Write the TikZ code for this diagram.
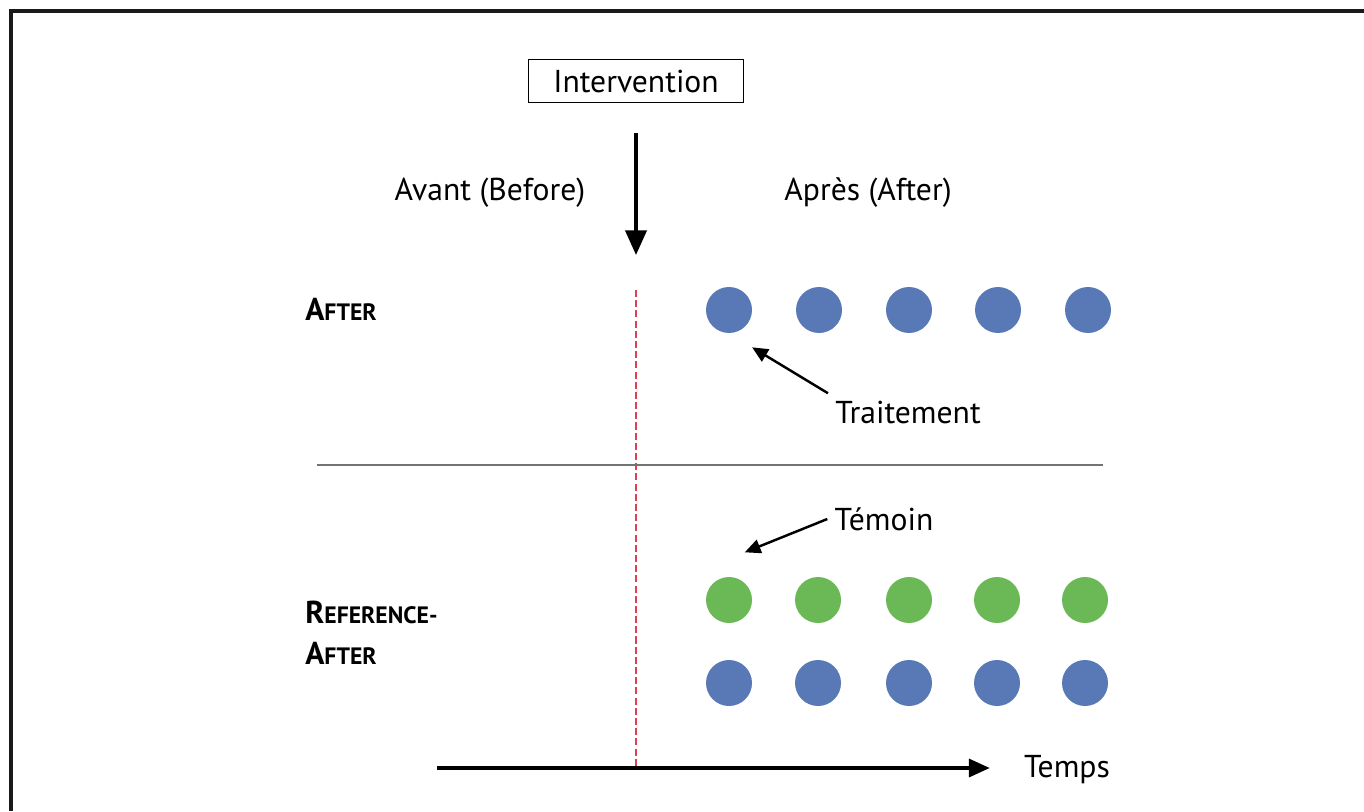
\documentclass[tikz,border=0pt]{standalone}
\usepackage{fontspec}
\setmainfont{PT Sans}
\usetikzlibrary{arrows.meta,positioning}
\definecolor{dotblue}{HTML}{5878B6}
\definecolor{dotgreen}{HTML}{6AB856}
\definecolor{cutred}{HTML}{E0404F}
\newcommand{\grouplabel}[2]{\textbf{{\fontsize{18}{20}\selectfont #1}{\fontsize{13.5}{20}\selectfont #2}}}

\begin{document}
\begin{tikzpicture}[x=0.02cm,y=-0.02cm,
        txt/.style={font=\fontsize{18}{21}\selectfont,inner sep=0pt},
        grp/.style={inner sep=0pt,anchor=west},
        dot/.style={circle,inner sep=0pt,minimum size=0.92cm},
        pointer/.style={line width=1.4pt,-{Triangle[length=9pt,width=8pt]}},
        bigarrow/.style={line width=2pt,-{Triangle[length=14pt,width=12pt]}}]
        \useasboundingbox (0,0) rectangle (1364,811);
        % frame
        \draw[line width=1.8pt,black!90] (1364,11) -- (11,11) -- (11,811);
        % intervention
        \node[txt,draw,line width=0.8pt,minimum width=4.3cm,minimum height=0.86cm] (intv) at (636,81) {Intervention};
        \coordinate (arrtop) at (636,133);
        \coordinate (arrtip) at (636,255);
        \draw[bigarrow] (arrtop) -- (arrtip);
        \node[txt] (avant) at (490,193) {Avant (Before)};
        \node[txt] (apres) at (868,193) {Après (After)};
        % cut and time axis
        \coordinate (cuttop) at (636,290);
        \coordinate (cutbot) at (636,768);
        \coordinate (axstart) at (437,768);
        \coordinate (axend) at (990,768);
        \draw[cutred,line width=1.2pt,dash pattern=on 4pt off 1.8pt] (cuttop) -- (cutbot);
        \draw[line width=2.5pt,-{Triangle[length=12pt,width=10pt]}] (axstart) -- (axend);
        \node[txt] (temps) at (1067,770) {Temps};
        % separator
        \coordinate (sepl) at (317,465);
        \coordinate (sepr) at (1103,465);
        \draw[black!55,line width=0.6pt] (sepl) -- (sepr);
        % groups
        \node[grp] (after) at (305,309) {\grouplabel{A}{FTER}};
        \node[grp] (refafter) at (305,612) {\grouplabel{R}{EFERENCE-}};
        \node[grp] (refafter2) at (305,653) {\grouplabel{A}{FTER}};
        % dots
        \foreach \i/\x in {1/729,2/819,3/909,4/998,5/1088}
            \node[dot,fill=dotblue] (t\i) at (\x,310) {};
        \foreach \i/\x in {1/729,2/818,3/909,4/997,5/1085}{
            \node[dot,fill=dotgreen] (c\i) at (\x,600) {};
            \node[dot,fill=dotblue] (r\i) at (\x,683) {};
        }
        % labels with pointers
        \node[txt,inner sep=4pt] (traitement) at (908,412) {Traitement};
        \node[txt,inner sep=4pt] (temoin) at (884,519) {Témoin};
        \draw[pointer,shorten >=0.54cm] (traitement.north west) -- (t1.south);
        \draw[pointer,shorten >=0.34cm] (temoin.west) -- ([yshift=0.36cm]c1.north);
\end{tikzpicture}
\end{document}
